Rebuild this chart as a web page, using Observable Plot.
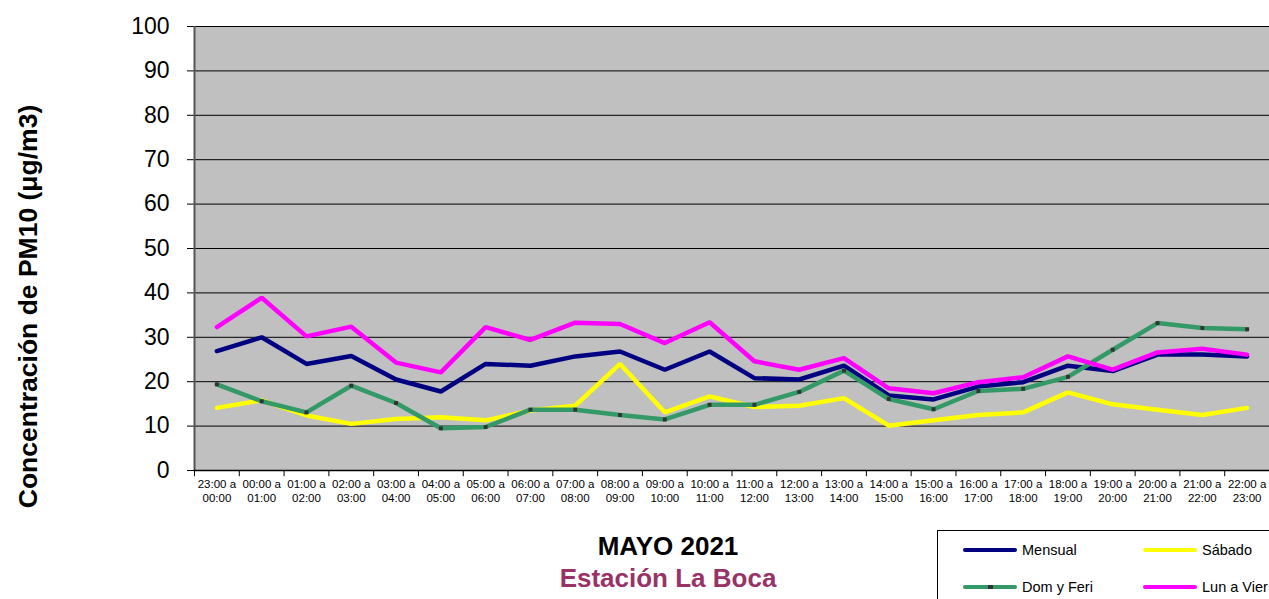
<!DOCTYPE html>
<html>
<head>
<meta charset="utf-8">
<script src="https://cdn.jsdelivr.net/npm/d3@7"></script>
<script src="https://cdn.jsdelivr.net/npm/@observablehq/plot@0.6"></script>
<style>
  body { margin: 0; background: #fff; font-family: "Liberation Sans", Arial, sans-serif; }
  #wrap { position: relative; width: 1269px; height: 599px; overflow: hidden; }
  #below { position: absolute; left: 0; top: 510px; width: 1269px; height: 89px; }
  .t1 { position: absolute; left: 518px; width: 300px; text-align: center; top: 21px; font-weight: bold; font-size: 26px; line-height: 30px; color: #000; }
  .t2 { position: absolute; left: 468px; width: 400px; text-align: center; top: 53px; font-weight: bold; font-size: 26px; line-height: 30px; color: #993366; }
  .legend { position: absolute; left: 937px; top: 20px; width: 340px; height: 80px; border: 1px solid #000; box-sizing: border-box; }
  .item { position: absolute; font-size: 14.5px; color: #000; display: flex; align-items: center; }
  .sw { width: 54px; height: 4px; border-radius: 2px; margin-right: 5px; position: relative; }
  .mk { position: absolute; left: 25px; top: 0; width: 5px; height: 4px; background: #333; }
</style>
</head>
<body>
<div id="wrap">
  <div id="chart"></div>
  <div id="below">
    <div class="t1">MAYO 2021</div>
    <div class="t2">Estación La Boca</div>
    <div class="legend" id="legend"></div>
  </div>
</div>
<script>
const hours = [
  "23:00 a\n00:00", "00:00 a\n01:00", "01:00 a\n02:00", "02:00 a\n03:00",
  "03:00 a\n04:00", "04:00 a\n05:00", "05:00 a\n06:00", "06:00 a\n07:00",
  "07:00 a\n08:00", "08:00 a\n09:00", "09:00 a\n10:00", "10:00 a\n11:00",
  "11:00 a\n12:00", "12:00 a\n13:00", "13:00 a\n14:00", "14:00 a\n15:00",
  "15:00 a\n16:00", "16:00 a\n17:00", "17:00 a\n18:00", "18:00 a\n19:00",
  "19:00 a\n20:00", "20:00 a\n21:00", "21:00 a\n22:00", "22:00 a\n23:00"
];
const seriesNames = ["Mensual", "Sábado", "Dom y Feri", "Lun a Vier"];
const seriesColors = ["#000080", "#FFFF00", "#339966", "#FF00FF"];
const mensual = [26.9,30.0,24.0,25.8,20.5,17.8,24.0,23.6,25.7,26.8,22.7,26.8,20.8,20.5,23.6,16.9,16.0,18.9,19.9,23.6,22.4,26.1,26.1,25.7];
const sabado  = [14.1,15.8,12.4,10.5,11.6,12.0,11.3,13.5,14.6,24.0,13.1,16.7,14.3,14.6,16.3,10.1,11.3,12.5,13.1,17.6,14.9,13.7,12.5,14.1];
const domFeri = [19.4,15.6,13.1,19.1,15.2,9.5,9.8,13.7,13.7,12.5,11.5,14.8,14.8,17.7,22.5,16.1,13.8,17.9,18.4,21.1,27.2,33.2,32.1,31.8];
const lunVier = [32.3,38.9,30.2,32.4,24.3,22.1,32.3,29.4,33.3,33.0,28.7,33.4,24.6,22.7,25.3,18.5,17.4,19.9,21.0,25.7,22.7,26.6,27.4,26.1];
const yTicks = [0,10,20,30,40,50,60,70,80,90,100];
const yTitle = "Concentración de PM10 (μg/m3)";

const allSeries = [mensual, sabado, domFeri, lunVier];
const rows = [];
allSeries.forEach((arr, s) => arr.forEach((v, i) => rows.push({i, v, s: seriesNames[s]})));
const idx = d3.range(hours.length);
const bounds = d3.range(hours.length + 1).map(i => i - 0.5);

const chart = Plot.plot({
  width: 1269,
  height: 510,
  marginLeft: 194,
  marginRight: 0,
  marginTop: 26,
  marginBottom: 40,
  style: { fontFamily: "'Liberation Sans', Arial, sans-serif", background: "#fff" },
  x: { type: "linear", domain: [-0.5, hours.length - 0.5] },
  y: { domain: [0, 100] },
  color: { domain: seriesNames, range: seriesColors },
  marks: [
    Plot.frame({ fill: "#C0C0C0", stroke: null }),
    Plot.gridY(yTicks.filter(d => d > 0), { stroke: "#000", strokeOpacity: 1, strokeWidth: 1 }),
    Plot.ruleX(bounds, { y1: 0, y2: -1.4, stroke: "#000", clip: false }),
    Plot.axisX({ ticks: idx, tickSize: 0, tickPadding: 8, tickFormat: i => hours[i], fontSize: 11.5, lineHeight: 1.2, label: null }),
    Plot.axisY({ ticks: yTicks, tickSize: 7, tickPadding: 18, fontSize: 23, label: null, stroke: "#000" }),
    Plot.line(rows, { x: "i", y: "v", z: "s", stroke: "s", strokeWidth: 4.5, strokeLinejoin: "miter" }),
    Plot.dot(domFeri.map((v, i) => ({i, v})), { x: "i", y: "v", symbol: "square", r: 2.2, fill: "#333", stroke: null }),
    Plot.ruleX([-0.5], { stroke: "#555", strokeWidth: 2 }),
    Plot.ruleY([0], { stroke: "#000", strokeWidth: 1.5 }),
    Plot.text([yTitle], { frameAnchor: "left", textAnchor: "middle", rotate: -90, dx: -166, dy: 58, fontSize: 26.5, fontWeight: "bold", fill: "#000" })
  ]
});
document.getElementById("chart").appendChild(chart);

const legend = document.getElementById("legend");
const pos = [[25, 11], [205, 11], [25, 48], [205, 48]];
seriesNames.forEach((name, k) => {
  const it = document.createElement("div");
  it.className = "item";
  it.style.left = pos[k][0] + "px";
  it.style.top = pos[k][1] + "px";
  const sw = document.createElement("div");
  sw.className = "sw";
  sw.style.background = seriesColors[k];
  if (name === "Dom y Feri") { const m = document.createElement("div"); m.className = "mk"; sw.appendChild(m); }
  it.appendChild(sw);
  const tx = document.createElement("span");
  tx.textContent = name;
  it.appendChild(tx);
  legend.appendChild(it);
});
</script>
</body>
</html>
